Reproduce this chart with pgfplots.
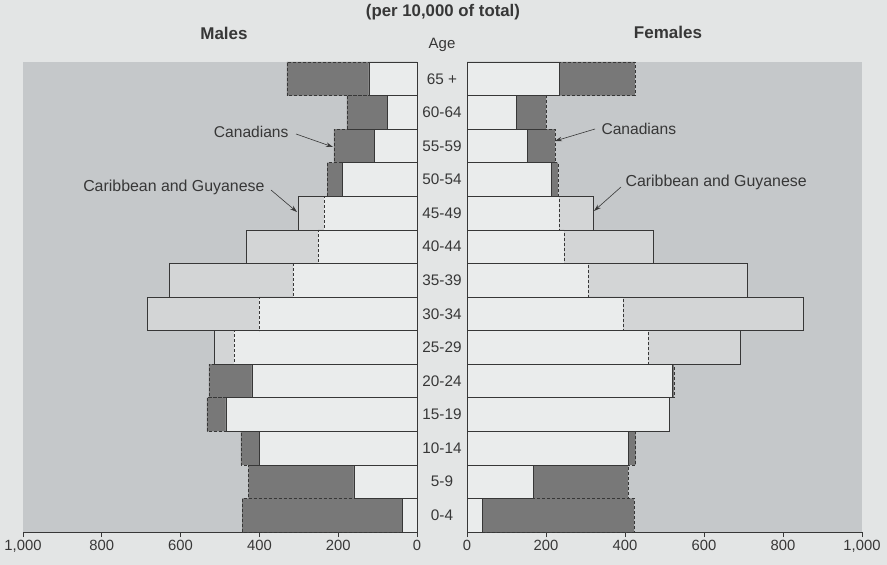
\documentclass[border=0pt]{standalone}
\usepackage{fontspec}
\setmainfont{Liberation Sans}
\usepackage{pgfplots}
\pgfplotsset{compat=1.18}
\usepackage{pgfplotstable}
\usetikzlibrary{arrows.meta}
\definecolor{pagebg}{RGB}{227,229,229}
\definecolor{panel}{RGB}{197,200,202}
\definecolor{lightbar}{RGB}{234,236,236}
\definecolor{midbar}{RGB}{211,213,214}
\definecolor{darkbar}{RGB}{120,120,120}
\definecolor{ink}{RGB}{55,55,55}

% row: 0 = 0-4 ... 13 = 65+
% mcar/fcar: Caribbean and Guyanese; mcan/fcan: Canadians (per 10,000 of total)
\pgfplotstableread{
row mcar mcan fcar fcan
0  38  444  40  423
1  160 428  167 408
2  400 447  408 427
3  485 533  511 513
4  419 528  519 524
5  515 464  691 458
6  685 401  851 395
7  629 315  709 306
8  434 251  471 246
9  302 236  319 233
10 190 228  213 230
11 109 211  152 223
12 74  178  124 200
13 122 330  235 425
}\pyr

\pgfplotsset{
  pyr/.style={
    scale only axis, height=470bp,
    xbar, bar width=1, bar shift=0pt,
    xmin=0, xmax=1000, ymin=-0.5, ymax=13.5, enlargelimits=false,
    axis x line*=bottom, axis y line=none,
    axis line style={-, draw=ink, line width=0.6bp},
    xtick={0,200,...,1000}, ytick=\empty,
    tick align=outside, major tick length=5bp,
    tick style={draw=ink, line width=0.6bp},
    axis background/.style={fill=panel},
    xticklabel style={font=\fontsize{14.8bp}{16bp}\selectfont, text=ink},
    /pgf/number format/1000 sep={,},
    /pgf/number format/assume math mode=true,
    clip=false,
  },
  carfill/.style={fill=midbar, draw=none},
  canfill/.style={fill=darkbar, draw=none},
  minfill/.style={fill=lightbar, draw=none},
  canline/.style={fill=none, draw=ink, line width=0.7bp, dash pattern=on 3bp off 2bp},
  carline/.style={fill=none, draw=ink, line width=0.7bp},
}

\begin{document}
\begin{tikzpicture}
\fill[pagebg] (0,0) rectangle (887bp,565bp);
\useasboundingbox (0,0) rectangle (887bp,565bp);

% Males
\begin{axis}[pyr, x dir=reverse, width=394bp, at={(23bp,33bp)}, anchor=south west]
\addplot[carfill] table[x=mcar, y=row]{\pyr};
\addplot[canfill] table[x=mcan, y=row]{\pyr};
\addplot[minfill] table[x expr={min(\thisrow{mcar},\thisrow{mcan})}, y=row]{\pyr};
\addplot[canline] table[x=mcan, y=row]{\pyr};
\addplot[carline] table[x=mcar, y=row]{\pyr};
\draw[ink, line width=0.7bp] (axis cs:0,-0.5) -- (axis cs:0,13.5);
\end{axis}

% Females
\begin{axis}[pyr, width=395bp, at={(467bp,33bp)}, anchor=south west]
\addplot[carfill] table[x=fcar, y=row]{\pyr};
\addplot[canfill] table[x=fcan, y=row]{\pyr};
\addplot[minfill] table[x expr={min(\thisrow{fcar},\thisrow{fcan})}, y=row]{\pyr};
\addplot[canline] table[x=fcan, y=row]{\pyr};
\addplot[carline] table[x=fcar, y=row]{\pyr};
\draw[ink, line width=0.7bp] (axis cs:0,-0.5) -- (axis cs:0,13.5);
\end{axis}

% Titles
\begin{scope}[every node/.style={text=ink}]
\node[font=\bfseries\fontsize{16.8bp}{19bp}\selectfont] at (443bp,553bp) {(per 10,000 of total)};
\node[font=\bfseries\fontsize{17bp}{19bp}\selectfont] at (224bp,532bp) {Males};
\node[font=\bfseries\fontsize{17bp}{19bp}\selectfont] at (668bp,533bp) {Females};
\node[font=\fontsize{15bp}{18bp}\selectfont] at (442bp,520bp) {Age};
\foreach \lab [count=\i from 0] in {0-4,5-9,10-14,15-19,20-24,25-29,30-34,35-39,40-44,45-49,50-54,55-59,60-64,65 +}
  \node[font=\fontsize{15.3bp}{18bp}\selectfont] at (442bp,{(33+(\i+0.5)*470/14)*1bp}) {\lab};

% Annotations
\node[font=\fontsize{15.6bp}{18bp}\selectfont, anchor=east] at (292bp,433bp) {Canadians};
\draw[ink, line width=0.6bp, -{Stealth[length=7bp,width=4.5bp]}] (296bp,431bp) -- (333bp,418bp);
\node[font=\fontsize{15.6bp}{18bp}\selectfont, anchor=west] at (598bp,436bp) {Canadians};
\draw[ink, line width=0.6bp, -{Stealth[length=7bp,width=4.5bp]}] (595bp,436bp) -- (555bp,424bp);
\node[font=\fontsize{15.9bp}{18bp}\selectfont, anchor=east] at (268bp,378bp) {Caribbean and Guyanese};
\draw[ink, line width=0.6bp, -{Stealth[length=7bp,width=4.5bp]}] (271bp,375bp) -- (297bp,353bp);
\node[font=\fontsize{15.9bp}{18bp}\selectfont, anchor=west] at (622bp,383bp) {Caribbean and Guyanese};
\draw[ink, line width=0.6bp, -{Stealth[length=7bp,width=4.5bp]}] (621bp,378bp) -- (594bp,354bp);
\end{scope}
\end{tikzpicture}
\end{document}
